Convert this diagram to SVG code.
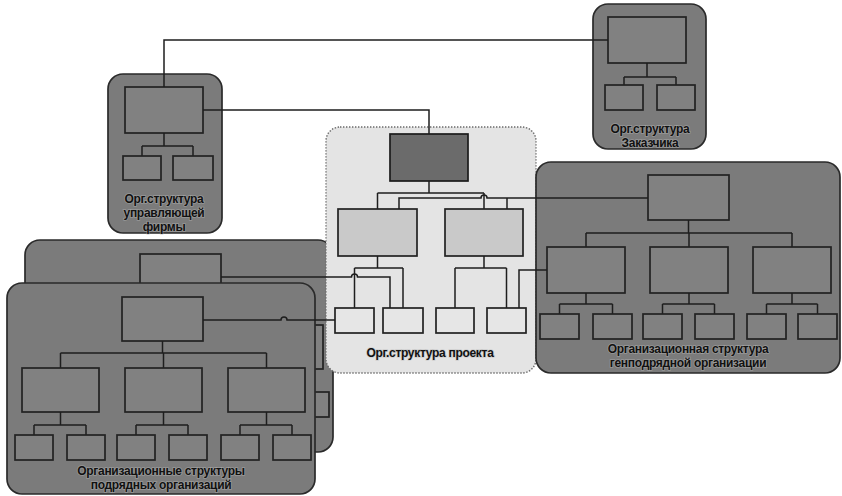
<svg xmlns="http://www.w3.org/2000/svg" width="842" height="496" viewBox="0 0 842 496">
  <style>
    .panel { fill: #7b7b7b; stroke: #2a2a2a; stroke-width: 1.7; }
    .proj { fill: #e4e4e4; stroke: #6a6a6a; stroke-width: 1.4; stroke-dasharray: 1.4 1.6; }
    .box { fill: #818181; stroke: #222; stroke-width: 1.7; }
    .dark { fill: #6b6b6b; stroke: #1c1c1c; stroke-width: 1.7; }
    .mid { fill: #c9c9c9; stroke: #222; stroke-width: 1.7; }
    .light { fill: #e6e6e6; stroke: #222; stroke-width: 1.7; }
    .wire { fill: none; stroke: #1e1e1e; stroke-width: 1.5; }
    .lbl { font-family: "Liberation Sans", Arial, sans-serif; font-weight: bold; font-size: 12px; letter-spacing: -0.3px; fill: #111; text-anchor: middle; stroke: #b8b8b8; stroke-width: 1.6; stroke-opacity: 0.5; paint-order: stroke; }
  </style>

  <defs>
    <!-- three-level tree used by the subcontractor panels -->
    <g id="subTree">
      <rect class="box" x="122" y="297" width="81" height="44"/>
      <path class="wire" d="M162.5,341 V353 M60.5,353 H266.5 M60.5,353 V368 M163.5,353 V368 M266.5,353 V368"/>
      <rect class="box" x="22" y="368" width="77" height="44"/>
      <rect class="box" x="125" y="368" width="77" height="44"/>
      <rect class="box" x="228" y="368" width="77" height="44"/>
      <path class="wire" d="M60.5,412 V425 M34,425 H86 M34,425 V435 M86,425 V435
                            M163.5,412 V425 M136,425 H188 M136,425 V435 M188,425 V435
                            M266.5,412 V425 M240,425 H292 M240,425 V435 M292,425 V435"/>
      <rect class="box" x="15" y="435" width="38" height="25"/>
      <rect class="box" x="67" y="435" width="38" height="25"/>
      <rect class="box" x="117" y="435" width="38" height="25"/>
      <rect class="box" x="169" y="435" width="38" height="25"/>
      <rect class="box" x="221" y="435" width="38" height="25"/>
      <rect class="box" x="273" y="435" width="38" height="25"/>
    </g>
  </defs>

  <!-- subcontractor organisations: back sheet -->
  <g id="sub-back">
    <rect class="panel" x="25" y="240" width="308" height="212" rx="15"/>
    <use href="#subTree" transform="translate(18,-43)"/>
  </g>

  <!-- subcontractor organisations: front sheet -->
  <g id="sub-front">
    <rect class="panel" x="7" y="283" width="308" height="211" rx="15"/>
    <use href="#subTree"/>
    <text class="lbl" x="161" y="475">Организационные структуры</text>
    <text class="lbl" x="161" y="489">подрядных организаций</text>
  </g>

  <!-- project organisation -->
  <g id="project">
    <rect class="proj" x="326" y="127" width="210" height="246" rx="14"/>
    <rect class="dark" x="390" y="134" width="78" height="47"/>
    <path class="wire" d="M429,181 V193 M377.5,193 H484 M377.5,193 V209 M484,193 V209"/>
    <rect class="mid" x="338" y="209" width="79" height="47"/>
    <rect class="mid" x="445" y="209" width="78" height="47"/>
    <path class="wire" d="M377.5,256 V268 M354.5,268 H403 M354.5,268 V308 M403,268 V308
                          M484,256 V268 M455,268 H506.5 M455,268 V308 M506.5,268 V308"/>
    <rect class="light" x="335" y="308" width="39" height="25"/>
    <rect class="light" x="383" y="308" width="40" height="25"/>
    <rect class="light" x="436" y="308" width="38" height="25"/>
    <rect class="light" x="487" y="308" width="39" height="25"/>
    <text class="lbl" x="430" y="357">Орг.структура проекта</text>
  </g>

  <!-- general contractor organisation -->
  <g id="general">
    <rect class="panel" x="536" y="162" width="304" height="211" rx="15"/>
    <rect class="box" x="648" y="175" width="81" height="45"/>
    <path class="wire" d="M688.5,220 V233 M586,233 H792 M586,233 V247 M689,233 V247 M792,233 V247"/>
    <rect class="box" x="547" y="247" width="78" height="46"/>
    <rect class="box" x="650" y="247" width="78" height="46"/>
    <rect class="box" x="753" y="247" width="78" height="46"/>
    <path class="wire" d="M586,293 V304 M559.5,304 H612.5 M559.5,304 V314 M612.5,304 V314
                          M689,293 V304 M662.5,304 H714.5 M662.5,304 V314 M714.5,304 V314
                          M792,293 V304 M766.5,304 H817.5 M766.5,304 V314 M817.5,304 V314"/>
    <rect class="box" x="540" y="314" width="39" height="25"/>
    <rect class="box" x="593" y="314" width="39" height="25"/>
    <rect class="box" x="643" y="314" width="39" height="25"/>
    <rect class="box" x="695" y="314" width="39" height="25"/>
    <rect class="box" x="747" y="314" width="39" height="25"/>
    <rect class="box" x="798" y="314" width="39" height="25"/>
    <text class="lbl" x="688" y="353">Организационная структура</text>
    <text class="lbl" x="688" y="367">генподрядной организации</text>
  </g>

  <!-- management company -->
  <g id="management">
    <rect class="panel" x="108" y="74" width="114" height="159" rx="15"/>
    <rect class="box" x="125" y="87" width="78" height="46"/>
    <path class="wire" d="M164,133 V146 M142,146 H193 M142,146 V156 M193,146 V156"/>
    <rect class="box" x="123" y="156" width="38" height="24"/>
    <rect class="box" x="173" y="156" width="40" height="24"/>
    <text class="lbl" x="164" y="203">Орг.структура</text>
    <text class="lbl" x="164" y="217">управляющей</text>
    <text class="lbl" x="164" y="231">фирмы</text>
  </g>

  <!-- customer -->
  <g id="customer">
    <rect class="panel" x="593" y="4" width="113" height="145" rx="15"/>
    <rect class="box" x="608" y="17" width="78" height="46"/>
    <path class="wire" d="M647,63 V77 M624,77 H676 M624,77 V85 M676,77 V85"/>
    <rect class="box" x="605" y="85" width="38" height="25"/>
    <rect class="box" x="657" y="85" width="38" height="25"/>
    <text class="lbl" x="650" y="133">Орг.структура</text>
    <text class="lbl" x="650" y="147">Заказчика</text>
  </g>

  <!-- links between the organisations -->
  <g id="links">
    <path class="wire" d="M164,87 V40 H608"/>
    <path class="wire" d="M203,110 H429 V134"/>
    <path class="wire" d="M648,198 H487 A3,3 0 0 0 481,198 H399 V209 M507,198 V209"/>
    <path class="wire" d="M547,270 H519 V308"/>
    <path class="wire" d="M221,277 H351.5 A3,3 0 0 1 357.5,277 H390 V308"/>
    <path class="wire" d="M203,320 H281 A3,3 0 0 1 287,320 H335"/>
  </g>
</svg>
